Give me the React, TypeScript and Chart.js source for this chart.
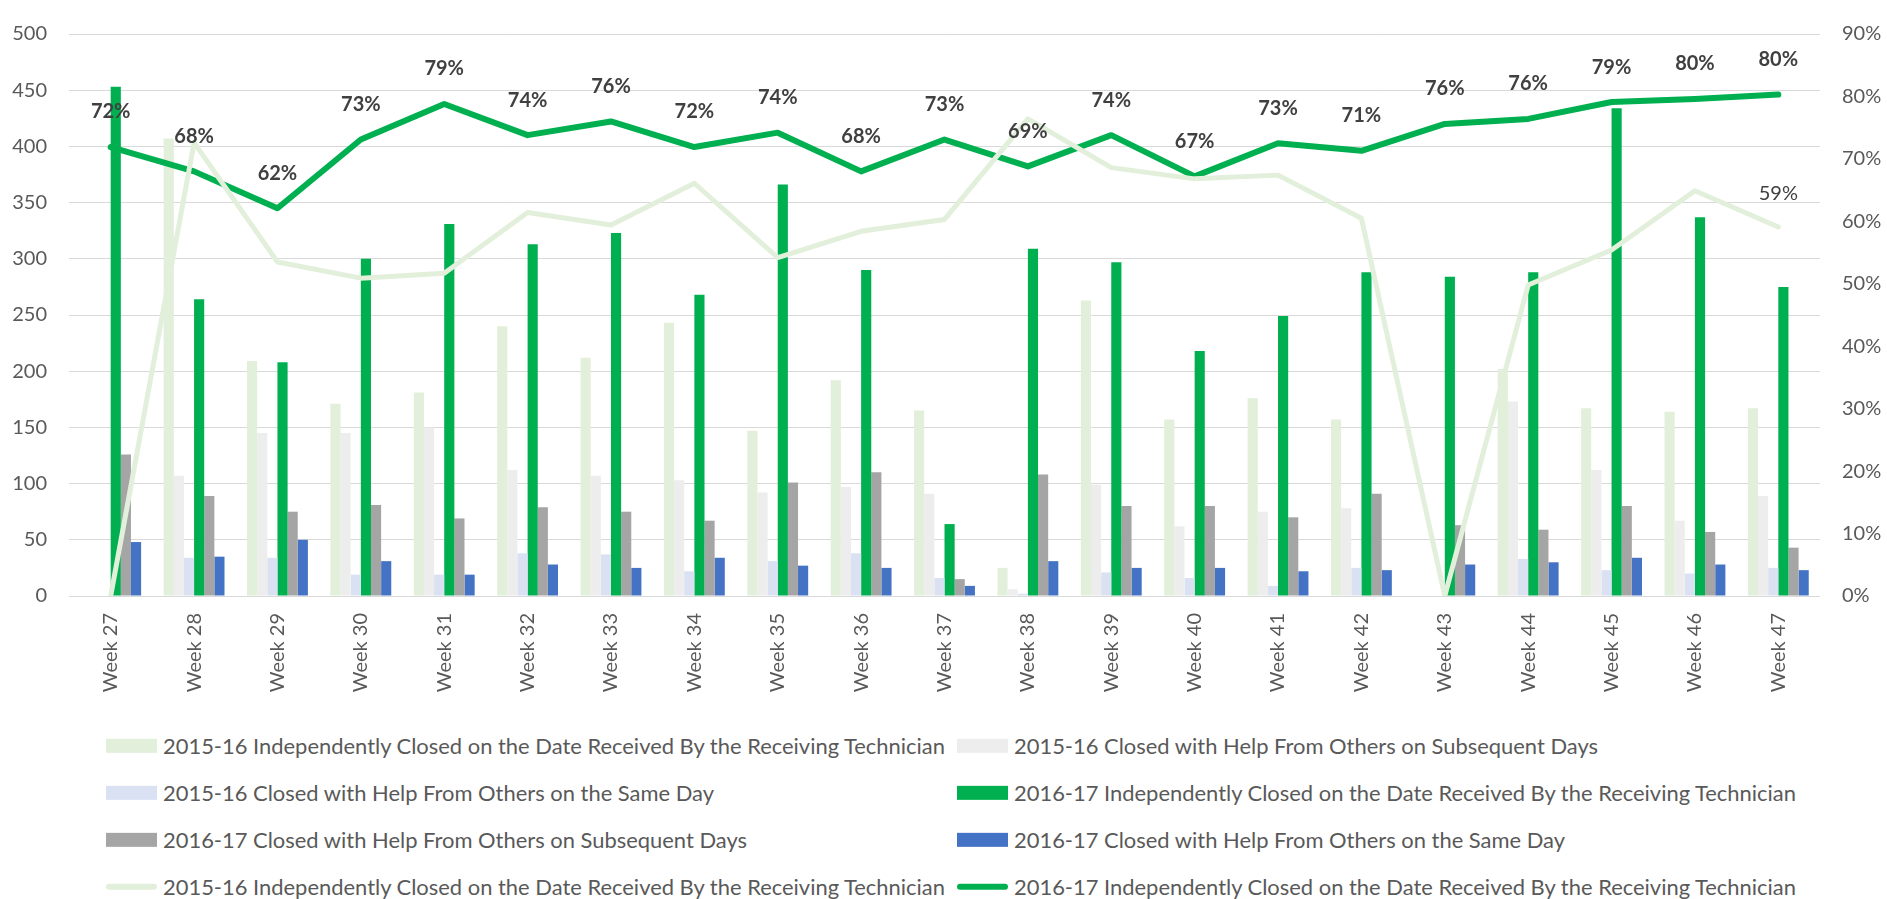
import React, { useEffect, useRef, useState } from "react";
import { Chart, registerables } from "chart.js";

Chart.register(...registerables);

const weeks = [
  "Week 27", "Week 28", "Week 29", "Week 30", "Week 31", "Week 32", "Week 33",
  "Week 34", "Week 35", "Week 36", "Week 37", "Week 38", "Week 39", "Week 40",
  "Week 41", "Week 42", "Week 43", "Week 44", "Week 45", "Week 46", "Week 47",
];

const ind1516 = [0, 407, 209, 171, 181, 240, 212, 243, 147, 192, 165, 25, 263, 157, 176, 157, 0, 202, 167, 164, 167];
const subs1516 = [0, 107, 145, 145, 150, 112, 107, 103, 92, 97, 91, 6, 99, 62, 75, 78, 0, 173, 112, 67, 89];
const same1516 = [0, 34, 34, 19, 19, 38, 37, 22, 31, 38, 16, 2, 21, 16, 9, 25, 0, 33, 23, 20, 25];
const ind1617 = [453, 264, 208, 300, 331, 313, 323, 268, 366, 290, 64, 309, 297, 218, 249, 288, 284, 288, 434, 337, 275];
const subs1617 = [126, 89, 75, 81, 69, 79, 75, 67, 101, 110, 15, 108, 80, 80, 70, 91, 63, 59, 80, 57, 43];
const same1617 = [48, 35, 50, 31, 19, 28, 25, 34, 27, 25, 9, 31, 25, 25, 22, 23, 28, 30, 34, 28, 23];

const pct1516 = [0, 72.6, 53.5, 50.9, 51.7, 61.4, 59.4, 66.1, 54.2, 58.4, 60.3, 76.4, 68.6, 66.8, 67.4, 60.5, 0, 49.8, 55.4, 64.9, 59.1];
const pct1617 = [71.9, 68.0, 62.1, 73.1, 78.8, 73.8, 76.0, 71.9, 74.2, 68.0, 73.1, 68.8, 73.8, 67.2, 72.5, 71.3, 75.6, 76.4, 79.1, 79.6, 80.3];

const leftTicks = [0, 50, 100, 150, 200, 250, 300, 350, 400, 450, 500];
const rightTicks = [0, 10, 20, 30, 40, 50, 60, 70, 80, 90];

const names = {
  ind1516: "2015-16 Independently Closed on the Date Received By the Receiving Technician",
  subs1516: "2015-16 Closed with Help From Others on Subsequent Days",
  same1516: "2015-16 Closed with Help From Others on the Same Day",
  ind1617: "2016-17 Independently Closed on the Date Received By the Receiving Technician",
  subs1617: "2016-17 Closed with Help From Others on Subsequent Days",
  same1617: "2016-17 Closed with Help From Others on the Same Day",
};

const C = {
  lightGreen: "#E2EFDA",
  lightGray: "#EDEDED",
  lightBlue: "#D9E1F2",
  green: "#00B050",
  gray: "#A5A5A5",
  blue: "#4472C4",
};

const FONT = "Lato, 'Open Sans', sans-serif";

const legendItems = [
  { label: names.ind1516, color: C.lightGreen, kind: "box", col: 0, row: 0 },
  { label: names.subs1516, color: C.lightGray, kind: "box", col: 1, row: 0 },
  { label: names.same1516, color: C.lightBlue, kind: "box", col: 0, row: 1 },
  { label: names.ind1617, color: C.green, kind: "box", col: 1, row: 1 },
  { label: names.subs1617, color: C.gray, kind: "box", col: 0, row: 2 },
  { label: names.same1617, color: C.blue, kind: "box", col: 1, row: 2 },
  { label: names.ind1516, color: C.lightGreen, kind: "line", col: 0, row: 3 },
  { label: names.ind1617, color: C.green, kind: "line", col: 1, row: 3 },
];

const labelPlugin = {
  id: "pctLabels",
  afterDatasetsDraw(chart: any) {
    const ctx = chart.ctx;
    ctx.save();
    ctx.textAlign = "center";
    ctx.textBaseline = "middle";
    const m17 = chart.getDatasetMeta(7);
    ctx.font = `bold 20px ${FONT}`;
    ctx.fillStyle = "#404040";
    m17.data.forEach((pt: any, i: number) => {
      ctx.fillText(Math.round(pct1617[i]) + "%", pt.x, pt.y - 35);
    });
    const m16 = chart.getDatasetMeta(6);
    const last = pct1516.length - 1;
    const p = m16.data[last];
    ctx.font = `20px ${FONT}`;
    ctx.fillStyle = "#404040";
    ctx.fillText(Math.round(pct1516[last]) + "%", p.x, p.y - 33);
    ctx.restore();
  },
};

export default function App() {
  const ref = useRef<HTMLCanvasElement | null>(null);
  const [legendSize, setLegendSize] = useState(20);

  useEffect(() => {
    const c = document.createElement("canvas").getContext("2d");
    if (c) {
      c.font = `100px ${FONT}`;
      const w = c.measureText(names.ind1516).width;
      if (w > 0) setLegendSize((100 * 784) / w);
    }
    if (!ref.current) return;
    const chart = new Chart(ref.current, {
      type: "bar",
      data: {
        labels: weeks,
        datasets: [
          { type: "bar", label: names.ind1516, data: ind1516, backgroundColor: C.lightGreen, yAxisID: "y", order: 1 },
          { type: "bar", label: names.subs1516, data: subs1516, backgroundColor: C.lightGray, yAxisID: "y", order: 1 },
          { type: "bar", label: names.same1516, data: same1516, backgroundColor: C.lightBlue, yAxisID: "y", order: 1 },
          { type: "bar", label: names.ind1617, data: ind1617, backgroundColor: C.green, yAxisID: "y", order: 1 },
          { type: "bar", label: names.subs1617, data: subs1617, backgroundColor: C.gray, yAxisID: "y", order: 1 },
          { type: "bar", label: names.same1617, data: same1617, backgroundColor: C.blue, yAxisID: "y", order: 1 },
          {
            type: "line", label: names.ind1516, data: pct1516, borderColor: C.lightGreen, backgroundColor: C.lightGreen,
            borderWidth: 5, pointRadius: 0, tension: 0, yAxisID: "y1", order: 0,
            borderJoinStyle: "round", borderCapStyle: "round",
          },
          {
            type: "line", label: names.ind1617, data: pct1617, borderColor: C.green, backgroundColor: C.green,
            borderWidth: 6, pointRadius: 0, tension: 0, yAxisID: "y1", order: 0,
            borderJoinStyle: "round", borderCapStyle: "round",
          },
        ] as any,
      },
      options: {
        responsive: false,
        animation: false,
        layout: { padding: { top: 19, left: 0, right: 0, bottom: 0 } },
        datasets: { bar: { categoryPercentage: 0.73, barPercentage: 1.0, borderWidth: 0 } } as any,
        plugins: { legend: { display: false }, tooltip: { enabled: false } },
        scales: {
          x: {
            grid: { display: false, drawTicks: false },
            border: { display: false },
            ticks: {
              autoSkip: false, maxRotation: 90, minRotation: 90, padding: 17,
              color: "#595959", font: { family: FONT, size: 20 },
            },
            afterFit: (s: any) => { s.height = 104; },
          },
          y: {
            position: "left",
            min: 0, max: 500,
            afterBuildTicks: (s: any) => { s.ticks = leftTicks.map((v) => ({ value: v })); },
            grid: { color: "#D9D9D9", lineWidth: 1, drawTicks: false },
            border: { display: false },
            ticks: { padding: 22, color: "#595959", font: { family: FONT, size: 20 } },
            afterFit: (s: any) => { s.width = 69; },
          },
          y1: {
            position: "right",
            min: 0, max: 90,
            afterBuildTicks: (s: any) => { s.ticks = rightTicks.map((v) => ({ value: v })); },
            grid: { display: false, drawTicks: false },
            border: { display: false },
            ticks: {
              padding: 22, color: "#595959", font: { family: FONT, size: 20 },
              callback: (v: any) => v + "%",
            },
            afterFit: (s: any) => { s.width = 67; },
          },
        },
      } as any,
      plugins: [labelPlugin],
    });
    return () => chart.destroy();
  }, []);

  const colX = [106, 957];
  const rowY = [746, 793, 840, 887];

  return (
    <div style={{ position: "absolute", left: 0, top: 0, width: 1887, height: 899, background: "#fff", overflow: "hidden" }}>
      <canvas ref={ref} width={1887} height={700} style={{ position: "absolute", left: 0, top: 0, width: 1887, height: 700 }} />
      {legendItems.map((it, i) => (
        <div key={i} style={{ position: "absolute", left: colX[it.col], top: rowY[it.row], transform: "translateY(-50%)", display: "flex", alignItems: "center", whiteSpace: "nowrap" }}>
          {it.kind === "box" ? (
            <div style={{ width: 51, height: 14, background: it.color }} />
          ) : (
            <div style={{ width: 51, height: 6, background: it.color, borderRadius: 3 }} />
          )}
          <span style={{ marginLeft: 6, fontFamily: FONT, fontSize: legendSize, color: "#595959", lineHeight: 1.2 }}>{it.label}</span>
        </div>
      ))}
    </div>
  );
}
